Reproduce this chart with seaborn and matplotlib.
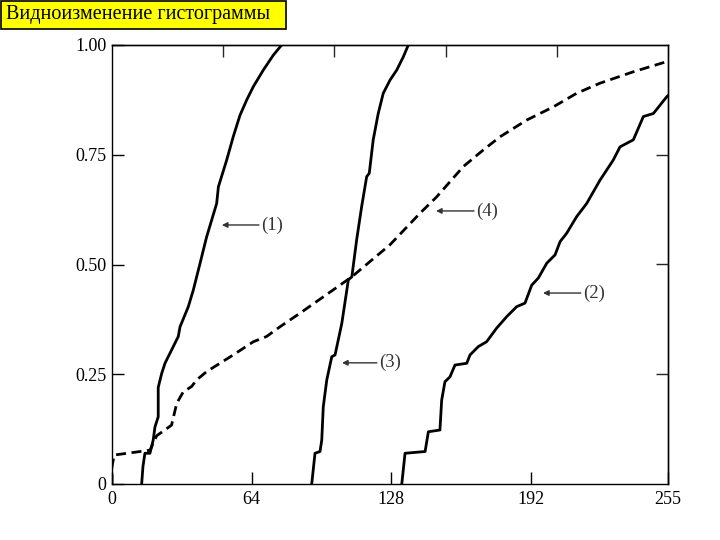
import matplotlib
matplotlib.use("Agg")
import matplotlib.pyplot as plt
import matplotlib.patches as mpatches
import seaborn as sns
import pandas as pd

# Curve (1)
x1 = [13.6, 14.2, 15.1, 17.4, 18.9, 19.7, 21.2, 21.2, 22.8, 24.3, 26.6, 30.4, 31.2, 35.0,
      37.3, 40.4, 43.4, 48.0, 48.8, 52.6, 55.6, 58.7, 61.8, 64.8, 69.4, 74.0, 77.8]
y1 = [0.0, 0.04, 0.07, 0.07, 0.10, 0.13, 0.153, 0.22, 0.252, 0.275, 0.298, 0.336, 0.358, 0.404,
      0.442, 0.503, 0.563, 0.639, 0.677, 0.738, 0.791, 0.84, 0.875, 0.905, 0.943, 0.977, 1.0]

# Curve (2)
x2 = [132.9, 134.4, 143.6, 145.1, 150.4, 151.2, 152.7, 155.0, 157.3, 162.7, 164.2, 168.0,
      171.8, 176.4, 181.0, 185.6, 189.4, 192.5, 195.5, 199.4, 203.2, 205.5, 208.5, 213.1,
      217.7, 223.8, 229.9, 233.0, 239.1, 243.7, 248.3, 254.4, 255.0]
y2 = [0.0, 0.07, 0.074, 0.119, 0.123, 0.191, 0.233, 0.244, 0.271, 0.275, 0.294, 0.313,
      0.324, 0.355, 0.381, 0.404, 0.412, 0.453, 0.469, 0.503, 0.522, 0.552, 0.571, 0.609,
      0.639, 0.692, 0.738, 0.768, 0.784, 0.837, 0.844, 0.882, 0.885]

# Curve (3)
x3 = [91.6, 93.1, 95.4, 96.2, 96.9, 98.5, 100.8, 102.3, 105.4, 108.4, 110.0, 112.2, 114.5,
      116.8, 118.0, 119.8, 122.1, 124.4, 127.5, 130.6, 133.6, 135.9]
y3 = [0.0, 0.07, 0.074, 0.10, 0.176, 0.237, 0.29, 0.294, 0.366, 0.465, 0.472, 0.556, 0.632,
      0.70, 0.708, 0.784, 0.844, 0.89, 0.92, 0.943, 0.973, 1.0]

# Curve (4), dashed
x4 = [0.0, 0.0, 1.0, 17.4, 20.5, 27.3, 29.7, 32.7, 36.5, 38.8, 43.4, 49.5, 55.6, 64.8, 70.9,
      77.0, 86.2, 110.0, 127.5, 141.3, 148.9, 161.1, 170.3, 178.0, 190.2, 202.4, 213.1,
      223.8, 239.1, 255.0]
y4 = [0.0, 0.04, 0.066, 0.077, 0.11, 0.134, 0.184, 0.21, 0.222, 0.237, 0.256, 0.275, 0.294,
      0.324, 0.336, 0.358, 0.389, 0.472, 0.545, 0.617, 0.654, 0.723, 0.761, 0.791, 0.829,
      0.859, 0.89, 0.913, 0.939, 0.963]

x_ticks = [0, 64, 128, 192, 255]
x_ticklabels = ["0", "64", "128", "192", "255"]
top_ticks = [51, 102, 153, 204]
y_ticks = [0, 0.25, 0.5, 0.75, 1.0]
y_ticklabels = ["0", "0.25", "0.50", "0.75", "1.00"]
right_ticks = [0.25, 0.5, 0.75]

labels = ["(1)", "(4)", "(2)", "(3)"]
arrow_tips = [(50.4, 0.59), (148.6, 0.622), (197.7, 0.435), (105.5, 0.276)]
text_pos = [(73.4, 0.59), (172.0, 0.622), (221.0, 0.435), (127.5, 0.276)]
title = "Видноизменение гистограммы"

sns.set_style("ticks")
plt.rcParams['font.family'] = ['Liberation Serif', 'DejaVu Serif']

fig = plt.figure(figsize=(7.2, 5.4), dpi=100)
ax = fig.add_axes([112/720, 1 - 484/540, 556/720, 439/540])

lw = 2.0
for xs, ys in [(x1, y1), (x2, y2), (x3, y3)]:
    df = pd.DataFrame({"x": xs, "y": ys})
    sns.lineplot(data=df, x="x", y="y", ax=ax, color="black", lw=lw,
                 sort=False, estimator=None)
df4 = pd.DataFrame({"x": x4, "y": y4})
sns.lineplot(data=df4, x="x", y="y", ax=ax, color="black", lw=lw,
             sort=False, estimator=None, dashes=False)
ax.lines[-1].set_dashes([3.6, 2.0])

ax.set_xlim(0, 255)
ax.set_ylim(0, 1.0)
ax.set_xlabel("")
ax.set_ylabel("")
ax.set_xticks(x_ticks)
ax.set_xticklabels(x_ticklabels)
ax.set_yticks(y_ticks)
ax.set_yticklabels(y_ticklabels)
ax.tick_params(direction="in", length=8.5, width=1.0, labelsize=13, colors="black")
ax.tick_params(axis="x", pad=5)
ax.tick_params(axis="y", pad=4)

sec_top = ax.secondary_xaxis("top")
sec_top.set_xticks(top_ticks)
sec_top.tick_params(direction="in", length=8.5, width=1.0, labeltop=False)
sec_right = ax.secondary_yaxis("right")
sec_right.set_yticks(right_ticks)
sec_right.tick_params(direction="in", length=8.5, width=1.0, labelright=False)

for spine in list(ax.spines.values()):
    spine.set_linewidth(1.0)
    spine.set_color("black")
    spine.set_visible(True)
for s in [sec_top.spines["top"], sec_right.spines["right"]]:
    s.set_linewidth(1.0)

for lab, tip, tp in zip(labels, arrow_tips, text_pos):
    ax.annotate("", xy=tip, xytext=(tp[0] - 6, tp[1]),
                arrowprops=dict(arrowstyle="-|>", color="#333333", lw=1.0,
                                mutation_scale=8, shrinkA=0, shrinkB=0))
    ax.text(tp[0], tp[1], lab, ha="center", va="center", fontsize=13.5, color="#333333")

rect = mpatches.Rectangle((1/720, 1 - 29/540), 285/720, 28/540, transform=fig.transFigure,
                          facecolor="#FFFF00", edgecolor="black", lw=1.2)
fig.patches.append(rect)
fig.text(6/720, 1 - 15/540, title, ha="left", va="center", fontsize=14.5, color="black")

fig.savefig("out.png", dpi=100)
